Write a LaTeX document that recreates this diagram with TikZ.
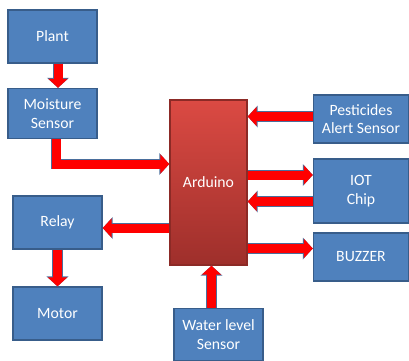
\documentclass[tikz,border=0pt]{standalone}
\usepackage{fontspec}
\setmainfont{Carlito}
\usetikzlibrary{arrows.meta}

\definecolor{boxblue}{HTML}{4F81BD}
\definecolor{boxedge}{HTML}{385D8A}
\definecolor{ardtop}{HTML}{DB4A43}
\definecolor{ardbot}{HTML}{9E2F2B}
\definecolor{ardedge}{HTML}{8C2A26}
\definecolor{arredge}{HTML}{4A6E9C}

\tikzstyle{b} = [align=center, rectangle, draw=boxedge, fill=boxblue, text=white, line width=1pt, minimum width=62.3pt, minimum height=37pt, inner sep=0pt, font=\fontsize{11}{13}\selectfont]
\tikzstyle{ard} = [b, draw=ardedge, top color=ardtop, bottom color=ardbot, minimum width=53.9pt, minimum height=115.5pt]
\tikzstyle{fat} = [draw=red, line width=6.3pt, -{Triangle[width=13.3pt,length=6.3pt]}, preaction={draw=arredge, line width=7.3pt, -{Triangle[width=15pt,length=7pt]}}]

\begin{document}
\begin{tikzpicture}[x=0.7pt, y=-0.7pt]
\useasboundingbox (0,0) rectangle (409,360);

\node [b] (plant) at (52.5,36.5) {Plant};
\node [b, below of=plant, node distance=53.9pt, minimum height=35pt] (ms) {Moisture\\Sensor};
\node [ard] (arduino) at (208.5,182.5) {Arduino};
\node [b, minimum width=66.5pt, minimum height=33.6pt] (pest) at (361,119) {Pesticides\\Alert Sensor};
\node [b, below of=pest, node distance=50.4pt, minimum width=66.5pt, minimum height=44.8pt] (iot) {IOT\\Chip};
\node [b, below of=iot, node distance=46.2pt, minimum width=66.5pt, minimum height=33.6pt] (buzzer) {BUZZER};
\node [b] (relay) at (57.5,222.5) {Relay};
\node [b, below of=relay, node distance=63.7pt] (motor) {Motor};
\node [b, minimum height=36.4pt] (water) at (218.5,334.5) {Water level\\Sensor};

% shifted ends of the block arrows
\coordinate (plantout) at ([xshift=3.85pt]plant.south);
\coordinate (msout) at ([xshift=2.45pt]ms.south);
\coordinate (ardin) at ([yshift=12.95pt]arduino.west);
\coordinate (pestout) at ([yshift=1.75pt]pest.west);
\coordinate (iotin) at ([yshift=11.2pt]iot.west);
\coordinate (iotout) at ([yshift=-7.35pt]iot.west);
\coordinate (buzin) at ([yshift=5.95pt]buzzer.west);
\coordinate (relayin) at ([yshift=-3.85pt]relay.east);
\coordinate (waterout) at ([xshift=-4.9pt]water.north);

\draw [fat] (plantout) -- (plantout |- ms.north);
\draw [fat] (msout) |- (ardin);
\draw [fat] (pestout) -- (pestout -| arduino.east);
\draw [fat] (iotin -| arduino.east) -- (iotin);
\draw [fat] (iotout) -- (iotout -| arduino.east);
\draw [fat] (buzin -| arduino.east) -- (buzin);
\draw [fat] (relayin -| arduino.west) -- (relayin);
\draw [fat] (relay) -- (motor);
\draw [fat] (waterout) -- (waterout |- arduino.south);
\end{tikzpicture}
\end{document}
